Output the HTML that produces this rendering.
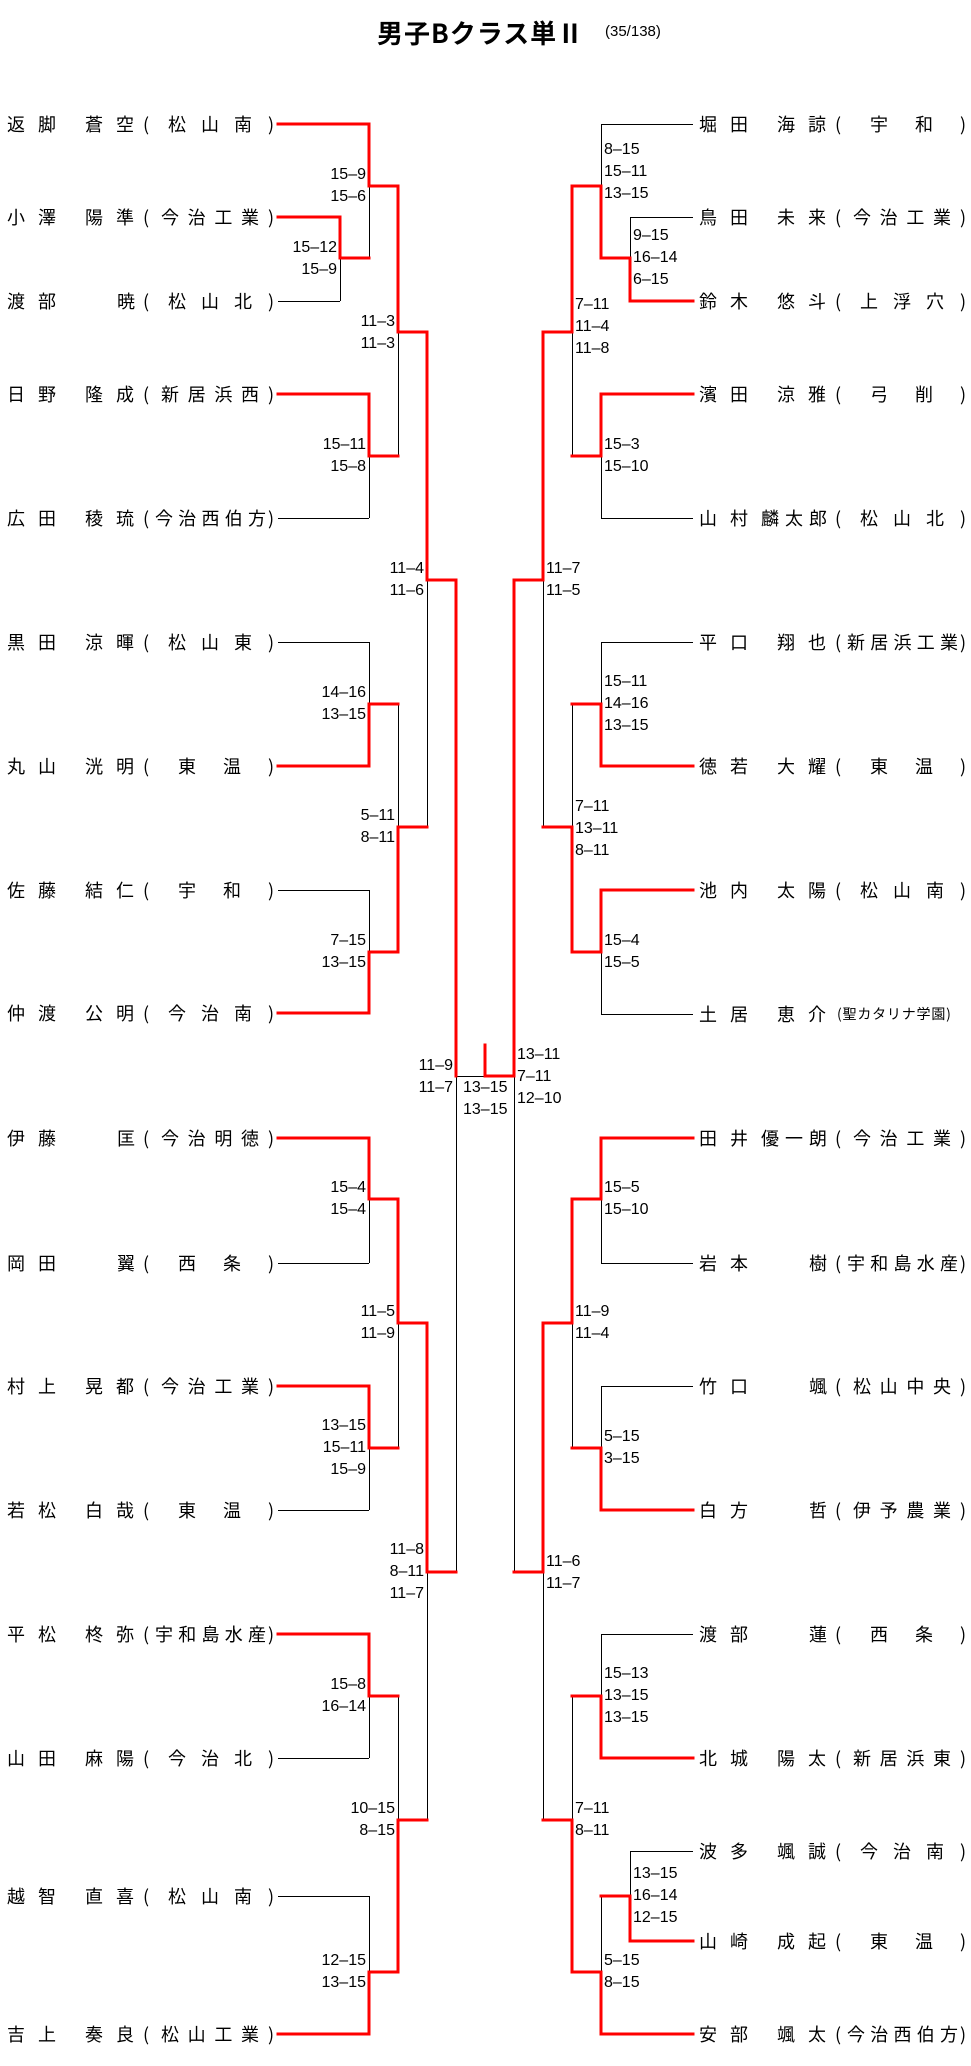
<!DOCTYPE html>
<html><head><meta charset="utf-8">
<style>
html,body{margin:0;padding:0;background:#fff;}
body{width:971px;height:2066px;position:relative;overflow:hidden;font-family:"Liberation Sans","Noto Sans CJK JP",sans-serif;color:#000;}
svg{position:absolute;left:0;top:0;}
.p{position:absolute;width:275px;height:24px;font-family:"Noto Sans CJK JP","Liberation Sans",sans-serif;font-size:18px;line-height:24px;}
.p i{position:absolute;top:0;font-style:normal;text-align:justify;text-align-last:justify;white-space:nowrap;}
.s{left:0;width:49px;}
.g{left:78px;width:49px;}
.g1{left:110px;width:18px;}
.g3{left:62px;width:66px;}
.o{left:136px;}
.c{left:261px;}
.c2{left:171px;width:63px;}
.c3{left:161px;width:84px;}
.c4{left:154px;width:98px;}
.c5{left:148px;width:111px;}
.sm{left:138px;font-size:14px !important;letter-spacing:0.8px;text-align:left !important;text-align-last:left !important;}
.sl,.sr{position:absolute;font-size:16px;line-height:22px;white-space:nowrap;}
.sl{text-align:right;}
.t{position:absolute;left:377px;top:16px;font-family:"Noto Sans CJK JP",sans-serif;font-weight:bold;font-size:26px;line-height:34px;letter-spacing:1px;white-space:nowrap;}
.t2{position:absolute;left:605px;top:22px;font-size:15px;line-height:20px;white-space:nowrap;}
</style></head><body>
<div class="t">男子Bクラス単Ⅱ</div>
<div class="t2">(35/138)</div>

<svg width="971" height="2066" viewBox="0 0 971 2066">
<g stroke="#000" stroke-width="1" fill="none" shape-rendering="crispEdges">
<path d="M278 301.5H340 M278 518.5H369 M278 642.5H369 M278 890.5H369 M278 1263.5H369 M278 1510.5H369 M278 1758.5H369 M278 1896.5H369"/>
<path d="M340.5 258V301 M369.5 186V258 M369.5 456V518 M369.5 642V704 M369.5 890V952 M369.5 1199V1263 M369.5 1448V1510 M369.5 1696V1758 M369.5 1896V1972 M398.5 332V456 M398.5 704V827 M398.5 1323V1448 M398.5 1696V1820 M427.5 580V827 M427.5 1572V1820 M456.5 1076V1572 M456 1076.5H485"/>
<path d="M601 124.5H693 M630 217.5H693 M601 518.5H693 M601 642.5H693 M601 1014.5H693 M601 1263.5H693 M601 1386.5H693 M601 1634.5H693 M630 1851.5H693"/>
<path d="M630.5 217V258 M601.5 124V186 M601.5 456V518 M601.5 642V704 M601.5 952V1014 M601.5 1199V1263 M601.5 1386V1448 M601.5 1634V1696 M601.5 1896V1972 M630.5 1851V1896 M572.5 332V456 M572.5 704V827 M572.5 1323V1448 M572.5 1696V1820 M543.5 580V827 M543.5 1572V1820 M514.5 1076V1572"/>
</g>
<g stroke="#ff0000" stroke-width="3" fill="none" stroke-linecap="square">
<path d="M278 124H369V186H398 M278 217H340V258H369 M278 394H369V456H398 M398 186V332H427 M278 766H369V704H398 M278 1013H369V952H398 M398 952V827H427 M427 332V580H456V1076"/>
<path d="M278 1138H369V1199H398V1323H427 M278 1386H369V1448H398 M278 1634H369V1696H398 M278 2034H369V1972H398V1820H427 M427 1323V1572H456"/>
<path d="M485 1045V1076H514V580H543V332H572V186H601V258H630V301H693 M601 394H693 M601 394V456H572 M693 766H601V704H572 M543 827H572V952H601V890H693"/>
<path d="M693 1138H601V1199H572V1323H543V1572H514 M693 1510H601V1448H572 M693 1758H601V1696H572 M543 1820H572V1972H601V2034H693 M601 1896H630V1941H693"/>
</g>
</svg>

<!-- Left players -->
<div class="p" style="left:7px;top:112px"><i class="s">返脚</i><i class="g">蒼空</i><i class="o">(</i><i class="c3">松山南</i><i class="c">)</i></div>
<div class="p" style="left:7px;top:205px"><i class="s">小澤</i><i class="g">陽準</i><i class="o">(</i><i class="c4">今治工業</i><i class="c">)</i></div>
<div class="p" style="left:7px;top:289px"><i class="s">渡部</i><i class="g1">暁</i><i class="o">(</i><i class="c3">松山北</i><i class="c">)</i></div>
<div class="p" style="left:7px;top:382px"><i class="s">日野</i><i class="g">隆成</i><i class="o">(</i><i class="c4">新居浜西</i><i class="c">)</i></div>
<div class="p" style="left:7px;top:506px"><i class="s">広田</i><i class="g">稜琉</i><i class="o">(</i><i class="c5">今治西伯方</i><i class="c">)</i></div>
<div class="p" style="left:7px;top:630px"><i class="s">黒田</i><i class="g">涼暉</i><i class="o">(</i><i class="c3">松山東</i><i class="c">)</i></div>
<div class="p" style="left:7px;top:754px"><i class="s">丸山</i><i class="g">洸明</i><i class="o">(</i><i class="c2">東温</i><i class="c">)</i></div>
<div class="p" style="left:7px;top:878px"><i class="s">佐藤</i><i class="g">結仁</i><i class="o">(</i><i class="c2">宇和</i><i class="c">)</i></div>
<div class="p" style="left:7px;top:1001px"><i class="s">仲渡</i><i class="g">公明</i><i class="o">(</i><i class="c3">今治南</i><i class="c">)</i></div>
<div class="p" style="left:7px;top:1126px"><i class="s">伊藤</i><i class="g1">匡</i><i class="o">(</i><i class="c4">今治明徳</i><i class="c">)</i></div>
<div class="p" style="left:7px;top:1251px"><i class="s">岡田</i><i class="g1">翼</i><i class="o">(</i><i class="c2">西条</i><i class="c">)</i></div>
<div class="p" style="left:7px;top:1374px"><i class="s">村上</i><i class="g">晃都</i><i class="o">(</i><i class="c4">今治工業</i><i class="c">)</i></div>
<div class="p" style="left:7px;top:1498px"><i class="s">若松</i><i class="g">白哉</i><i class="o">(</i><i class="c2">東温</i><i class="c">)</i></div>
<div class="p" style="left:7px;top:1622px"><i class="s">平松</i><i class="g">柊弥</i><i class="o">(</i><i class="c5">宇和島水産</i><i class="c">)</i></div>
<div class="p" style="left:7px;top:1746px"><i class="s">山田</i><i class="g">麻陽</i><i class="o">(</i><i class="c3">今治北</i><i class="c">)</i></div>
<div class="p" style="left:7px;top:1884px"><i class="s">越智</i><i class="g">直喜</i><i class="o">(</i><i class="c3">松山南</i><i class="c">)</i></div>
<div class="p" style="left:7px;top:2022px"><i class="s">吉上</i><i class="g">奏良</i><i class="o">(</i><i class="c4">松山工業</i><i class="c">)</i></div>

<!-- Right players -->
<div class="p" style="left:699px;top:112px"><i class="s">堀田</i><i class="g">海諒</i><i class="o">(</i><i class="c2">宇和</i><i class="c">)</i></div>
<div class="p" style="left:699px;top:205px"><i class="s">鳥田</i><i class="g">未来</i><i class="o">(</i><i class="c4">今治工業</i><i class="c">)</i></div>
<div class="p" style="left:699px;top:289px"><i class="s">鈴木</i><i class="g">悠斗</i><i class="o">(</i><i class="c3">上浮穴</i><i class="c">)</i></div>
<div class="p" style="left:699px;top:382px"><i class="s">濱田</i><i class="g">涼雅</i><i class="o">(</i><i class="c2">弓削</i><i class="c">)</i></div>
<div class="p" style="left:699px;top:506px"><i class="s">山村</i><i class="g3">麟太郎</i><i class="o">(</i><i class="c3">松山北</i><i class="c">)</i></div>
<div class="p" style="left:699px;top:630px"><i class="s">平口</i><i class="g">翔也</i><i class="o">(</i><i class="c5">新居浜工業</i><i class="c">)</i></div>
<div class="p" style="left:699px;top:754px"><i class="s">徳若</i><i class="g">大耀</i><i class="o">(</i><i class="c2">東温</i><i class="c">)</i></div>
<div class="p" style="left:699px;top:878px"><i class="s">池内</i><i class="g">太陽</i><i class="o">(</i><i class="c3">松山南</i><i class="c">)</i></div>
<div class="p" style="left:699px;top:1002px"><i class="s">土居</i><i class="g">恵介</i><i class="sm">(聖カタリナ学園)</i></div>
<div class="p" style="left:699px;top:1126px"><i class="s">田井</i><i class="g3">優一朗</i><i class="o">(</i><i class="c4">今治工業</i><i class="c">)</i></div>
<div class="p" style="left:699px;top:1251px"><i class="s">岩本</i><i class="g1">樹</i><i class="o">(</i><i class="c5">宇和島水産</i><i class="c">)</i></div>
<div class="p" style="left:699px;top:1374px"><i class="s">竹口</i><i class="g1">颯</i><i class="o">(</i><i class="c4">松山中央</i><i class="c">)</i></div>
<div class="p" style="left:699px;top:1498px"><i class="s">白方</i><i class="g1">哲</i><i class="o">(</i><i class="c4">伊予農業</i><i class="c">)</i></div>
<div class="p" style="left:699px;top:1622px"><i class="s">渡部</i><i class="g1">蓮</i><i class="o">(</i><i class="c2">西条</i><i class="c">)</i></div>
<div class="p" style="left:699px;top:1746px"><i class="s">北城</i><i class="g">陽太</i><i class="o">(</i><i class="c4">新居浜東</i><i class="c">)</i></div>
<div class="p" style="left:699px;top:1839px"><i class="s">波多</i><i class="g">颯誠</i><i class="o">(</i><i class="c3">今治南</i><i class="c">)</i></div>
<div class="p" style="left:699px;top:1929px"><i class="s">山崎</i><i class="g">成起</i><i class="o">(</i><i class="c2">東温</i><i class="c">)</i></div>
<div class="p" style="left:699px;top:2022px"><i class="s">安部</i><i class="g">颯太</i><i class="o">(</i><i class="c5">今治西伯方</i><i class="c">)</i></div>

<!-- Left scores -->
<div class="sl" style="right:605px;top:164px">15–9<br>15–6</div>
<div class="sl" style="right:634px;top:237px">15–12<br>15–9</div>
<div class="sl" style="right:576px;top:311px">11–3<br>11–3</div>
<div class="sl" style="right:605px;top:434px">15–11<br>15–8</div>
<div class="sl" style="right:547px;top:558px">11–4<br>11–6</div>
<div class="sl" style="right:605px;top:682px">14–16<br>13–15</div>
<div class="sl" style="right:576px;top:805px">5–11<br>8–11</div>
<div class="sl" style="right:605px;top:930px">7–15<br>13–15</div>
<div class="sl" style="right:518px;top:1055px">11–9<br>11–7</div>
<div class="sl" style="right:605px;top:1177px">15–4<br>15–4</div>
<div class="sl" style="right:576px;top:1301px">11–5<br>11–9</div>
<div class="sl" style="right:605px;top:1415px">13–15<br>15–11<br>15–9</div>
<div class="sl" style="right:547px;top:1539px">11–8<br>8–11<br>11–7</div>
<div class="sl" style="right:605px;top:1674px">15–8<br>16–14</div>
<div class="sl" style="right:576px;top:1798px">10–15<br>8–15</div>
<div class="sl" style="right:605px;top:1950px">12–15<br>13–15</div>

<!-- Center -->
<div class="sr" style="left:463px;top:1077px">13–15<br>13–15</div>

<!-- Right scores -->
<div class="sr" style="left:604px;top:139px">8–15<br>15–11<br>13–15</div>
<div class="sr" style="left:633px;top:225px">9–15<br>16–14<br>6–15</div>
<div class="sr" style="left:575px;top:294px">7–11<br>11–4<br>11–8</div>
<div class="sr" style="left:604px;top:434px">15–3<br>15–10</div>
<div class="sr" style="left:546px;top:558px">11–7<br>11–5</div>
<div class="sr" style="left:604px;top:671px">15–11<br>14–16<br>13–15</div>
<div class="sr" style="left:575px;top:796px">7–11<br>13–11<br>8–11</div>
<div class="sr" style="left:604px;top:930px">15–4<br>15–5</div>
<div class="sr" style="left:517px;top:1044px">13–11<br>7–11<br>12–10</div>
<div class="sr" style="left:604px;top:1177px">15–5<br>15–10</div>
<div class="sr" style="left:575px;top:1301px">11–9<br>11–4</div>
<div class="sr" style="left:604px;top:1426px">5–15<br>3–15</div>
<div class="sr" style="left:546px;top:1551px">11–6<br>11–7</div>
<div class="sr" style="left:604px;top:1663px">15–13<br>13–15<br>13–15</div>
<div class="sr" style="left:575px;top:1798px">7–11<br>8–11</div>
<div class="sr" style="left:633px;top:1863px">13–15<br>16–14<br>12–15</div>
<div class="sr" style="left:604px;top:1950px">5–15<br>8–15</div>
</body></html>
